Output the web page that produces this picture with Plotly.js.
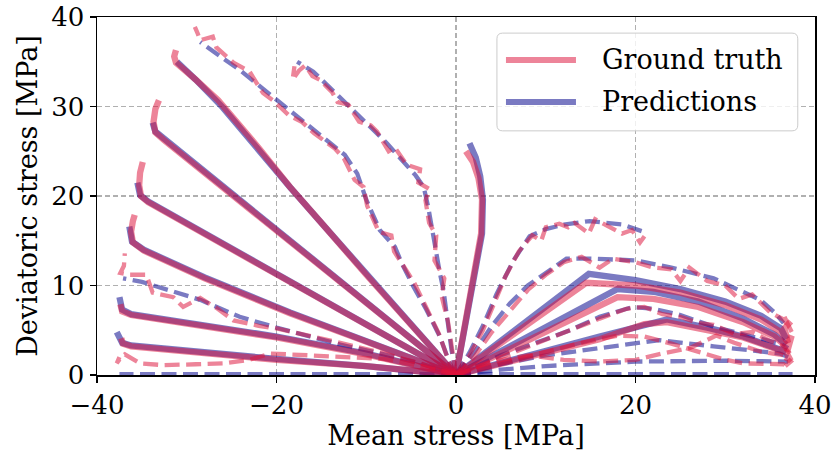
<!DOCTYPE html>
<html><head><meta charset="utf-8">
<script src="https://cdn.plot.ly/plotly-3.0.1.min.js"></script>
<style>html,body{margin:0;padding:0;background:#fff}#chart{width:832px;height:462px}</style>
</head><body><div id="chart"></div><script>
// ---------- solid stress paths (ground truth / predictions) ----------
const A_pred_x = [0,-5,-10,-15,-18.5,-22,-26,-29,-30.6,-31.1];
const A_pred_y = [0,5.6,11.3,17.0,21.0,25.2,29.9,33.0,34.5,35.0];
const A_gt_x = [0,-5,-10,-15,-18.5,-22,-26.5,-29,-30.6,-31.2,-31.4,-31.2];
const A_gt_y = [0,5.5,11.2,17.0,21.0,25.4,30.7,33.0,34.3,34.9,35.6,36.3];
const B_pred_x = [0,-10,-20,-28,-32.6,-33.5,-33.8];
const B_pred_y = [0,8.1,16.2,22.7,26.4,27.2,28.2];
const B_gt_x = [0,-10,-20,-28,-32.6,-33.5,-33.7,-33.5,-33.1];
const B_gt_y = [0,8.0,16.1,22.6,26.3,27.1,28.3,29.7,30.7];
const C_pred_x = [0,-10,-20,-30,-34.3,-35.2,-35.5];
const C_pred_y = [0,5.6,11.3,17.0,19.4,20.1,21.5];
const C_gt_x = [0,-10,-20,-30,-34.3,-35.1,-35.3,-35.2,-34.9];
const C_gt_y = [0,5.6,11.2,16.9,19.3,20.0,21.2,22.6,23.8];
const D_pred_x = [0,-10,-18.5,-28,-34.8,-36.1,-36.4];
const D_pred_y = [0,3.7,7.0,10.9,14.0,14.9,16.6];
const D_gt_x = [0,-10,-18.5,-28,-34.8,-36.0,-36.2,-36.0,-35.8];
const D_gt_y = [0,3.7,6.9,10.8,13.9,14.8,16.0,17.2,17.9];
const E_pred_x = [0,-10,-20,-30,-36.2,-37.2,-37.5];
const E_pred_y = [0,2.4,4.3,5.9,6.8,7.3,8.7];
const E_gt_x = [0,-10,-20,-30,-36.2,-37.2,-37.4];
const E_gt_y = [0,2.3,4.2,5.8,6.7,7.1,7.9];
const F_pred_x = [0,-10,-20,-30,-36.2,-37.2,-37.8];
const F_pred_y = [0,1.0,1.8,2.7,3.3,3.6,4.8];
const F_gt_x = [0,-10,-20,-30,-36.2,-37.1,-37.3];
const F_gt_y = [0,1.0,1.7,2.6,3.2,3.5,4.1];
const V_pred_x = [0,0.8,1.9,2.9,3.0,2.7,2.2,1.5];
const V_pred_y = [0,4.6,10.2,15.8,19.6,22.2,24.3,25.9];
const V_gt_x = [0,0.8,1.9,2.8,2.9,2.5,1.9,1.1];
const V_gt_y = [0,4.6,10.2,15.8,19.6,22.0,23.8,25.0];
const G_pred_x = [0,5,10,14.8,20,25,30,34,36.2,36.8];
const G_pred_y = [0,3.8,7.6,11.3,10.6,9.6,8.2,6.6,5.2,4.0];
const G_gt_x = [0,5,10,14.5,20,25,30,34,36.2,37.0,36.6,37.3];
const G_gt_y = [0,3.5,7.0,10.3,10.0,9.2,7.8,6.2,4.8,3.6,5.2,6.0];
const H_pred_x = [0,6,12,18,22,27,32,35.5,36.8];
const H_pred_y = [0,3.2,6.5,9.6,9.3,8.2,6.3,4.5,3.4];
const H_gt_x = [0,6,12,18,22,27,32,35.5,36.8,37.4,36.9];
const H_gt_y = [0,2.9,5.9,8.7,8.5,7.6,5.9,4.3,3.2,4.4,2.6];
const I_pred_x = [0,8,16,23.5,28,32,36.8];
const I_pred_y = [0,2.2,4.3,6.2,5.3,4.3,2.6];
const I_gt_x = [0,8,16,21,23.5,28,32,36.8,37.3,36.7];
const I_gt_y = [0,2.0,4.0,5.7,5.9,5.0,4.2,2.5,1.6,2.0];

// ---------- dashed stress paths ----------
const P1_pred_x = [0,-0.7,-1.8,-3.3,-4.75,-6.05,-6.8,-8.5,-10,-11,-12.4,-15.9,-20,-24,-28.5];
const P1_pred_y = [0,1.3,4.3,7.3,9.9,12.5,14.3,16.2,19.6,22.5,24.6,27.4,30.7,34.0,37.2];
const P1_gt_x = [0,-0.8,-1.9,-3.1,-4.6,-5.6,-6.9,-7.2,-8.6,-9.9,-10.3,-11.3,-12.5,-13.5,-15.8,-17.2,-18.6,-20.4,-21.5,-22.2,-23.0,-24.8,-26.0,-26.7,-27.1,-28.5,-28.8,-29.1];
const P1_gt_y = [0,1.5,4.6,7.0,10.2,11.8,13.8,15.6,16.0,18.9,21.0,21.8,24.2,25.3,27.0,28.3,29.0,30.7,31.5,32.6,33.9,34.9,36.0,36.6,37.8,37.4,38.2,38.9];
const P2_pred_x = [0,-0.5,-1.0,-1.4,-1.8,-2.5,-3.1,-3.6,-4.5,-7.7,-10,-12.2,-15.9,-17.7];
const P2_pred_y = [0,2.8,6.5,9.5,11.4,15.5,18.8,21.0,22.3,25.9,28.2,30.3,33.9,35.0];
const P2_gt_x = [0,-0.4,-0.9,-1.6,-1.3,-2.4,-2.2,-3.0,-3.4,-3.0,-4.2,-4.0,-5.5,-6.8,-7.5,-8.8,-9.5,-10.8,-12.0,-13.2,-13.8,-14.5,-15.2,-16.0,-16.8,-17.5,-18.2,-18.0];
const P2_gt_y = [0,2.5,6.0,8.8,10.8,12.8,15.6,17.0,19.5,20.8,21.5,23.0,23.5,25.4,25.0,27.2,27.9,28.3,30.2,30.5,31.6,32.3,33.0,33.4,34.6,34.0,33.0,34.5];
const L1_pred_x = [0,-4,-8,-12.9,-20,-24.1,-28.5,-31,-33.4,-35,-37.1];
const L1_pred_y = [0,1.3,2.3,3.4,5.3,6.5,8.4,9.2,9.9,10.4,10.8];
const L1_gt_x = [0,-4,-8,-12.9,-20,-22,-24.8,-26.7,-28.5,-30.4,-31.5,-33.8,-34.5,-36.5,-37.4,-37.0,-36.9];
const L1_gt_y = [0,1.3,2.4,3.6,5.2,5.5,6.1,7.5,8.6,7.6,8.7,9.2,11.2,11.2,11.4,12.2,13.6];
const L2_pred_x = [0,-10,-20,-30,-37.5];
const L2_pred_y = [0.1,0.1,0.1,0.1,0.1];
const L2_gt_x = [0,-4,-8,-12.9,-16,-20.7,-23,-25.9,-29,-32.6,-35.2,-36.9,-37.3,-37.8,-37.5];
const L2_gt_y = [0,1.0,1.8,2.0,2.1,2.4,1.7,1.3,1.2,1.1,1.3,2.3,2.0,1.3,2.0];
const R1_pred_x = [0,1.5,3,4.5,6.4,8.2,10,12,14.9,18.6,20.9];
const R1_pred_y = [0,2.5,5.5,9.0,12.8,15.5,16.3,16.8,17.2,16.8,16.0];
const R1_gt_x = [0,1.5,3,4.5,5.5,7,8.5,9.5,10,11.5,12.5,13.2,14.8,15.5,17,18.5,19.6,20.5,21];
const R1_gt_y = [0,2.2,5,8.5,11,13.8,15.6,15,16.5,16.9,16.5,17.0,15.8,17.4,16.6,15.8,16.2,14.8,15.5];
const R2_pred_x = [0,2,4,6,8,10.1,12.3,15,20.1,24,28.7,31.5,33.9,35.5,36.5];
const R2_pred_y = [0,2.5,5.5,8,10,11.5,13,13,12.8,12,10.8,9.5,8.4,7.0,5.8];
const R2_gt_x = [0,2,4,6,8,10,12,14,16,17.5,20,22,24,25,26,28,30,31.5,33,35,36.5,37.2,36.6,37.4];
const R2_gt_y = [0,2,4.8,7.2,9.5,11.2,12.6,13.2,12.0,13.0,12.6,12.0,11.8,10.5,12.0,10.5,10.0,8.5,9.0,7.0,6.2,5.2,6.5,4.8];
const R3_pred_x = [0,5,10,12.7,16,19.7,22,25,28.7,32,36.1,37];
const R3_pred_y = [0,2.2,4.0,5.0,6.5,7.6,7.4,6.7,5.4,4.5,3.5,3.0];
const R3_gt_x = [0,5,10,12.7,16,19,21,23,25,27,28.7,31,33,35,36.5,37.2,36.8];
const R3_gt_y = [0,2.0,3.9,5.0,6.3,7.4,7.6,6.8,6.5,5.8,5.6,4.6,4.8,3.8,3.2,2.4,3.0];
const R4_pred_x = [0,5,10,17.5,22.7,28.7,36.1,37];
const R4_pred_y = [0,1.2,2.2,3.2,3.9,3.2,2.4,2.0];
const R4_gt_x = [0,4,8,12,16,20,23,26,29,31,34,36.5,37.3,36.7];
const R4_gt_y = [0,1.5,2.2,1.7,1.5,1.7,2.4,3.0,4.4,3.6,2.6,2.2,1.5,1.0];
const R5_pred_x = [0,5,10,20,30,37];
const R5_pred_y = [0,0.6,1.0,1.5,1.6,1.5];
const R5_gt_x = [0,6,10,14,18,21,24,27,30,32,36.5,37.2];
const R5_gt_y = [0,1.5,2.5,3.6,4.4,4.3,3.5,2.6,1.7,1.3,1.2,0.8];
const R6_pred_x = [0,10,20,30,37.5];
const R6_pred_y = [0.1,0.1,0.1,0.1,0.1];

const xTicks = [-40,-20,0,20,40];
const yTicks = [0,10,20,30,40];
const legendLabels = ['Ground truth','Predictions'];

const GT_COLOR = 'rgba(220,20,60,0.52)';
const PRED_COLOR = 'rgba(0,0,139,0.52)';
const SOLID_W = 6.3, DASH_W = 4.3, DASH = '15px,6.5px';

const solid = [
  [A_pred_x,A_pred_y,A_gt_x,A_gt_y],[B_pred_x,B_pred_y,B_gt_x,B_gt_y],
  [C_pred_x,C_pred_y,C_gt_x,C_gt_y],[D_pred_x,D_pred_y,D_gt_x,D_gt_y],
  [E_pred_x,E_pred_y,E_gt_x,E_gt_y],[F_pred_x,F_pred_y,F_gt_x,F_gt_y],
  [V_pred_x,V_pred_y,V_gt_x,V_gt_y],[G_pred_x,G_pred_y,G_gt_x,G_gt_y],
  [H_pred_x,H_pred_y,H_gt_x,H_gt_y],[I_pred_x,I_pred_y,I_gt_x,I_gt_y]
];
const dashed = [
  [P1_pred_x,P1_pred_y,P1_gt_x,P1_gt_y],[P2_pred_x,P2_pred_y,P2_gt_x,P2_gt_y],
  [L1_pred_x,L1_pred_y,L1_gt_x,L1_gt_y],[L2_pred_x,L2_pred_y,L2_gt_x,L2_gt_y],
  [R1_pred_x,R1_pred_y,R1_gt_x,R1_gt_y],[R2_pred_x,R2_pred_y,R2_gt_x,R2_gt_y],
  [R3_pred_x,R3_pred_y,R3_gt_x,R3_gt_y],[R4_pred_x,R4_pred_y,R4_gt_x,R4_gt_y],
  [R5_pred_x,R5_pred_y,R5_gt_x,R5_gt_y],[R6_pred_x,R6_pred_y,null,null]
];

const traces = [];
function line(x,y,color,w,dash){
  return {type:'scatter',mode:'lines',x:x,y:y,hoverinfo:'skip',showlegend:false,
    line:{color:color,width:w,dash:dash||'solid',shape:'linear'}};
}
// predictions first, ground truth drawn on top
dashed.forEach(p=>traces.push(line(p[0],p[1],PRED_COLOR,DASH_W,DASH)));
solid.forEach(p=>traces.push(line(p[0],p[1],PRED_COLOR,SOLID_W)));
dashed.forEach(p=>{ if(p[2]) traces.push(line(p[2],p[3],GT_COLOR,DASH_W,DASH)); });
solid.forEach(p=>traces.push(line(p[2],p[3],GT_COLOR,SOLID_W)));

const FONT = 'DejaVu Serif, serif';
const axisCommon = {
  ticks:'outside', ticklen:6, tickwidth:1.4, tickcolor:'black',
  showline:true, linecolor:'black', linewidth:1.5, mirror:true,
  showgrid:true, gridcolor:'#b0b0b0', gridwidth:1.2, griddash:'5px,3px',
  zeroline:false, tickfont:{family:FONT,size:26,color:'black'}
};

// legend box (rounded) in paper coordinates
const lx0=0.557, lx1=0.976, ly0=0.682, ly1=0.955, rx=0.008, ry=0.016;
const boxPath = `M${lx0+rx},${ly0} L${lx1-rx},${ly0} Q${lx1},${ly0} ${lx1},${ly0+ry} L${lx1},${ly1-ry} Q${lx1},${ly1} ${lx1-rx},${ly1} L${lx0+rx},${ly1} Q${lx0},${ly1} ${lx0},${ly1-ry} L${lx0},${ly0+ry} Q${lx0},${ly0} ${lx0+rx},${ly0} Z`;
const legY = [0.880, 0.7626];
const legColors = [GT_COLOR, PRED_COLOR];

const shapes = [{type:'path',xref:'paper',yref:'paper',path:boxPath,
  fillcolor:'rgba(255,255,255,0.8)',line:{color:'#cccccc',width:1}}];
const annotations = [];
legendLabels.forEach((t,i)=>{
  shapes.push({type:'line',xref:'paper',yref:'paper',x0:0.5696,x1:0.6671,y0:legY[i],y1:legY[i],
    line:{color:legColors[i],width:6}});
  annotations.push({xref:'paper',yref:'paper',x:0.7006,y:legY[i],xanchor:'left',yanchor:'middle',
    text:t,showarrow:false,font:{family:FONT,size:27,color:'black'}});
});

const layout = {
  width:832, height:462,
  margin:{l:97,r:17,t:17,b:87,pad:0},
  paper_bgcolor:'white', plot_bgcolor:'white',
  font:{family:FONT,size:26,color:'black'},
  showlegend:false,
  xaxis:Object.assign({range:[-40,40],tickvals:xTicks,
    title:{text:'Mean stress [MPa]',font:{family:FONT,size:27,color:'black'},standoff:4}},axisCommon),
  yaxis:Object.assign({range:[0,40],tickvals:yTicks,
    title:{text:'Deviatoric stress [MPa]',font:{family:FONT,size:27,color:'black'},standoff:6}},axisCommon),
  shapes:shapes, annotations:annotations
};
Plotly.newPlot('chart',traces,layout,{staticPlot:true,displayModeBar:false});
</script></body></html>
